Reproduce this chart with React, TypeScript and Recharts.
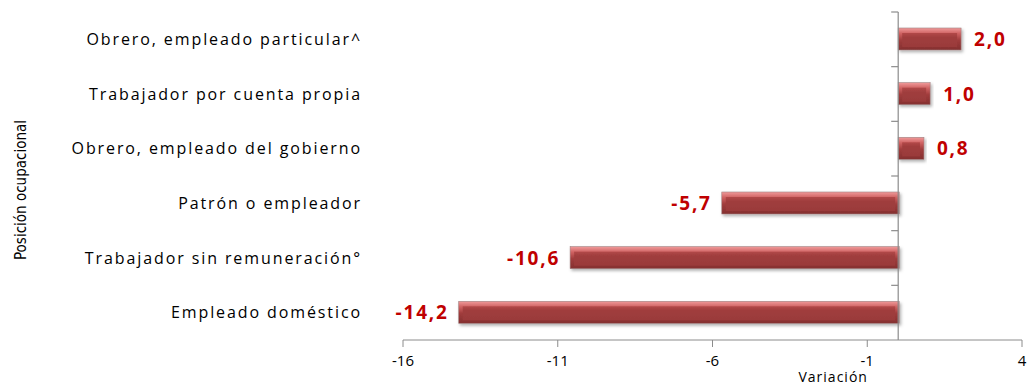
import React from 'react';
import { Bar, BarChart, LabelList, ReferenceLine, XAxis, YAxis } from 'recharts';

const categories = [
    'Obrero, empleado particular^',
    'Trabajador por cuenta propia',
    'Obrero, empleado del gobierno',
    'Patrón o empleador',
    'Trabajador sin remuneración°',
    'Empleado doméstico',
];
const variations = [2.0, 1.0, 0.8, -5.7, -10.6, -14.2];
const xTicks = [-16, -11, -6, -1, 4];

const data = categories.map((name, i) => ({ name, value: variations[i] }));

const FONT = '"Open Sans", "Liberation Sans", sans-serif';
const AXIS_GREY = '#8c8c8c';

const fmt = (v: number) => v.toFixed(1).replace('.', ',');

// bevelled bar, a bit like the old Excel 3D preset
const BevelBar = (props: any) => {
    const { x, y, width, height } = props;
    const x0 = Math.min(x, x + width);
    const w = Math.abs(width) + 1;
    const inset = Math.min(4, w / 3);
    return (
        <g filter="url(#barShadow)">
            <rect x={x0} y={y} width={w} height={height} fill="url(#bevelOuter)" stroke="#a08080" strokeWidth={0.6} />
            <rect x={x0 + inset} y={y + 5} width={Math.max(0, w - inset * 2)} height={height - 8} fill="url(#bevelInner)" />
        </g>
    );
};

const ValueLabel = (props: any) => {
    const { x, y, width, height, value } = props;
    const end = x + width;
    const pos = value >= 0;
    return (
        <text
            x={pos ? end + 14 : end - 10}
            y={y + height / 2}
            dy="0.36em"
            textAnchor={pos ? 'start' : 'end'}
            fill="#c00000"
            fontFamily={FONT}
            fontWeight={700}
            fontSize={19}
            letterSpacing={1.8}
        >
            {fmt(value)}
        </text>
    );
};

const CategoryTick = (props: any) => {
    const { x, y, payload } = props;
    return (
        <text x={x - 33} y={y} dy="0.36em" textAnchor="end" fill="#000" fontFamily={FONT} fontSize={16} letterSpacing={1.9}>
            {payload.value}
        </text>
    );
};

// vertical line at zero with ticks between the categories
const ZeroAxis = (props: any) => {
    const { x1, y1, x2, y2 } = props;
    const top = Math.min(y1, y2);
    const bottom = Math.max(y1, y2);
    const step = (bottom - top) / categories.length;
    const marks = Array.from({ length: categories.length }, (_, i) => top + step * i);
    return (
        <g>
            <line x1={x1} y1={top} x2={x2} y2={bottom} stroke={AXIS_GREY} strokeWidth={1.2} />
            {marks.map((m) => (
                <line key={m} x1={x1 - 7} y1={m} x2={x1} y2={m} stroke={AXIS_GREY} strokeWidth={1.2} />
            ))}
        </g>
    );
};

export default function App() {
    return (
        <div style={{ position: 'absolute', left: 0, top: 0, background: '#fff' }}>
            <BarChart
                width={1029}
                height={386}
                data={data}
                layout="vertical"
                margin={{ top: 12, right: 7, bottom: 16, left: 0 }}
            >
                <defs>
                    <linearGradient id="bevelOuter" x1="0" y1="0" x2="0" y2="1">
                        <stop offset="0%" stopColor="#f09a9a" />
                        <stop offset="25%" stopColor="#cf6262" />
                        <stop offset="55%" stopColor="#a03c3c" />
                        <stop offset="100%" stopColor="#843030" />
                    </linearGradient>
                    <linearGradient id="bevelInner" x1="0" y1="0" x2="0" y2="1">
                        <stop offset="0%" stopColor="#b24848" />
                        <stop offset="30%" stopColor="#a03e3e" />
                        <stop offset="100%" stopColor="#9a3a3a" />
                    </linearGradient>
                    <filter id="barShadow" x="-10%" y="-30%" width="120%" height="170%">
                        <feDropShadow dx="1.5" dy="2" stdDeviation="1.5" floodColor="#000" floodOpacity={0.3} />
                    </filter>
                </defs>
                <XAxis
                    type="number"
                    domain={[-16, 4]}
                    ticks={xTicks}
                    interval={0}
                    height={30}
                    stroke={AXIS_GREY}
                    tickSize={7}
                    tick={{ fill: '#000', fontSize: 15, fontFamily: FONT }}
                    tickMargin={8}
                    label={{
                        content: (p: any) => {
                            const vb = p.viewBox;
                            return (
                                <text x={vb.x + vb.width * 0.695} y={vb.y + 42} textAnchor="middle" fontSize={14} fontFamily={FONT} letterSpacing={1} fill="#000">
                                    Variación
                                </text>
                            );
                        },
                    }}
                />
                <YAxis
                    type="category"
                    dataKey="name"
                    width={403}
                    axisLine={false}
                    tickLine={false}
                    tick={<CategoryTick />}
                    interval={0}
                    label={{
                        content: (p: any) => {
                            const vb = p.viewBox;
                            const cy = vb.y + vb.height / 2 + 14;
                            return (
                                <text x={26} y={cy} transform={`rotate(-90, 26, ${cy})`} textAnchor="middle" fontSize={15} fontFamily="'Liberation Sans Narrow', 'DejaVu Sans Condensed', sans-serif" fill="#000">
                                    Posición ocupacional
                                </text>
                            );
                        },
                    }}
                />
                <Bar dataKey="value" barSize={22} shape={<BevelBar />} isAnimationActive={false}>
                    <LabelList dataKey="value" content={<ValueLabel />} />
                </Bar>
                <ReferenceLine x={0} shape={<ZeroAxis />} ifOverflow="visible" />
            </BarChart>
        </div>
    );
}
